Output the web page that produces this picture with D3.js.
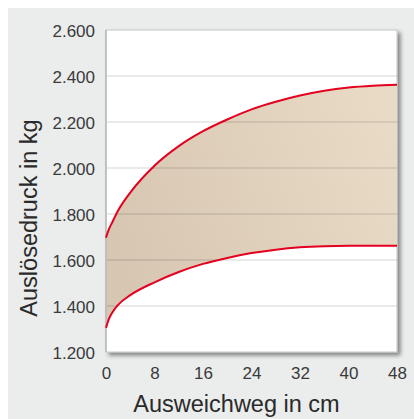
<!DOCTYPE html>
<html><head><meta charset="utf-8">
<script src="https://cdn.jsdelivr.net/npm/d3@7"></script>
<style>html,body{margin:0;padding:0;background:#fff;}svg{display:block;}</style>
</head><body>
<svg id="c" width="414" height="419"></svg>
<script>
const xValues = [0, 0.5, 1, 2, 4, 8, 12, 16, 20, 24, 28, 32, 36, 40, 44, 48];
const upperValues = [1697, 1735, 1762, 1815, 1893, 2010, 2095, 2160, 2211, 2255, 2288, 2315, 2336, 2350, 2358, 2362];
const lowerValues = [1305, 1345, 1370, 1405, 1447, 1503, 1548, 1583, 1609, 1630, 1645, 1655, 1660, 1662, 1662, 1662];
const xTicks = [0, 8, 16, 24, 32, 40, 48];
const yTicks = [1200, 1400, 1600, 1800, 2000, 2200, 2400, 2600];
const xTitle = "Ausweichweg in cm";
const yTitle = "Auslösedruck in kg";

const svg = d3.select("#c");
const L = 106, R = 397, T = 30, B = 352;
const x = d3.scaleLinear().domain([0, 48]).range([L, R]);
const y = d3.scaleLinear().domain([1200, 2600]).range([B, T]);

const defs = svg.append("defs");
const f = defs.append("filter").attr("id", "sh").attr("x", "-5%").attr("y", "-5%").attr("width", "115%").attr("height", "115%");
f.append("feGaussianBlur").attr("in", "SourceAlpha").attr("stdDeviation", 2);
f.append("feOffset").attr("dx", 3).attr("dy", 3).attr("result", "o");
f.append("feComponentTransfer").append("feFuncA").attr("type", "linear").attr("slope", 0.45);
const m = f.append("feMerge"); m.append("feMergeNode"); m.append("feMergeNode").attr("in", "SourceGraphic");
const g = defs.append("linearGradient").attr("id", "fg").attr("x1", "0").attr("y1", "0.6").attr("x2", "1").attr("y2", "0.3");
g.append("stop").attr("offset", "0").attr("stop-color", "#d6c6b2");
g.append("stop").attr("offset", "1").attr("stop-color", "#e9dac5");

svg.append("rect").attr("x", 8).attr("y", 8).attr("width", 406).attr("height", 411).attr("fill", "#ebecec");
svg.append("rect").attr("x", L).attr("y", T).attr("width", R - L).attr("height", B - T)
  .attr("fill", "#fff").attr("stroke", "#c4c6c6").attr("stroke-width", 1).attr("filter", "url(#sh)");

const data = xValues.map((d, i) => ({x: d, u: upperValues[i], l: lowerValues[i]}));
const curve = d3.curveMonotoneX;
svg.append("path").datum(data).attr("fill", "url(#fg)")
  .attr("d", d3.area().x(d => x(d.x)).y0(d => y(d.l)).y1(d => y(d.u)).curve(curve));

svg.append("g").selectAll("line").data(yTicks.slice(1, -1)).join("line")
  .attr("x1", L + 1).attr("x2", R).attr("y1", d => y(d)).attr("y2", d => y(d))
  .attr("stroke", "rgba(0,0,0,0.11)").attr("stroke-width", 1.5);
svg.append("line").attr("x1", L).attr("x2", L).attr("y1", T).attr("y2", B).attr("stroke", "#b8baba").attr("stroke-width", 1.5);

["u", "l"].forEach(k => {
  svg.append("path").datum(data).attr("fill", "none").attr("stroke", "#e4001f").attr("stroke-width", 2)
    .attr("d", d3.line().x(d => x(d.x)).y(d => y(d[k])).curve(curve));
});

const font = "'Liberation Sans', Arial, Helvetica, sans-serif";
const yAxis = d3.axisLeft(y).tickValues(yTicks).tickSize(0).tickPadding(11)
  .tickFormat(v => (v / 1000).toFixed(3));
svg.append("g").attr("transform", `translate(${L},0)`).call(yAxis)
  .call(a => a.select(".domain").remove())
  .call(a => a.selectAll("text").attr("font-family", font).attr("font-size", 17).attr("fill", "#3a3a3a").attr("dy", "0.4em"));
const xAxis = d3.axisBottom(x).tickValues(xTicks).tickSize(0).tickPadding(15);
svg.append("g").attr("transform", `translate(0,${B})`).call(xAxis)
  .call(a => a.select(".domain").remove())
  .call(a => a.selectAll("text").attr("font-family", font).attr("font-size", 17).attr("fill", "#3a3a3a"));

svg.append("text").attr("x", (L + R) / 2 - 15).attr("y", 412).attr("text-anchor", "middle")
  .attr("font-family", font).attr("font-size", 23.5).attr("fill", "#2a2a2a").text(xTitle);
svg.append("text").attr("transform", "translate(37,218) rotate(-90)").attr("text-anchor", "middle")
  .attr("font-family", font).attr("font-size", 23.5).attr("fill", "#2a2a2a").text(yTitle);
</script>
</body></html>
